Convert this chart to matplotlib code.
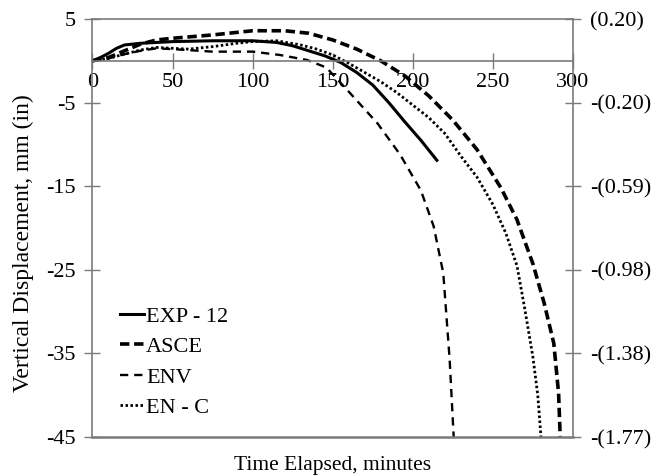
import matplotlib
matplotlib.use("Agg")
import matplotlib.pyplot as plt

# data (time in minutes, displacement in mm)
exp_t = [0, 5, 10, 15, 20, 30, 50, 75, 100, 115, 125, 135, 145, 155, 165, 175, 185, 195, 205, 215]
exp_d = [0, 0.4, 0.9, 1.5, 1.9, 2.1, 2.3, 2.4, 2.4, 2.2, 1.8, 1.2, 0.6, -0.2, -1.4, -2.9, -5.0, -7.3, -9.5, -11.9]

asce_t = [0, 10, 20, 30, 40, 50, 75, 100, 120, 135, 150, 165, 180, 195, 210, 225, 240, 255, 265, 275, 282, 288, 291, 292]
asce_d = [0, 0.4, 1.2, 2.0, 2.5, 2.7, 3.1, 3.6, 3.6, 3.3, 2.5, 1.4, 0, -1.8, -4.2, -7.1, -10.6, -15.2, -19.0, -24.3, -29.0, -33.8, -39.8, -45]

env_t = [0, 10, 20, 30, 40, 50, 75, 100, 117, 134, 146, 161, 178, 192, 205, 213, 219, 223, 225.5]
env_d = [0, 0.3, 0.8, 1.2, 1.5, 1.4, 1.1, 1.1, 0.7, 0.1, -0.8, -3.9, -7.5, -11.2, -15.5, -19.8, -25.4, -35.8, -45]

enc_t = [0, 10, 20, 30, 40, 50, 60, 75, 90, 100, 115, 130, 140, 150, 160, 170, 180, 190, 200, 210, 220, 230, 240, 250, 258, 265, 270, 275, 278, 280]
enc_d = [0, 0.3, 0.8, 1.3, 1.6, 1.5, 1.4, 1.7, 2.1, 2.3, 2.4, 1.9, 1.4, 0.7, -0.3, -1.4, -2.5, -3.8, -5.3, -6.8, -8.7, -11.4, -13.9, -17.2, -20.6, -24.5, -29.8, -35.5, -40, -45]

x_ticks = [0, 50, 100, 150, 200, 250, 300]
y_ticks = [5, -5, -15, -25, -35, -45]
in_labels = ["(0.20)", "-(0.20)", "-(0.59)", "-(0.98)", "-(1.38)", "-(1.77)"]

plt.rcParams['font.family'] = ['Liberation Serif', 'DejaVu Serif']
plt.rcParams['font.size'] = 16
plt.rcParams['axes.unicode_minus'] = False
grey = '#7a7a7a'

fig = plt.figure(figsize=(6.56, 4.76), dpi=100)
ax = fig.add_axes([0.141, 0.082, 0.7325, 0.878])

ax.plot(exp_t, exp_d, color='black', lw=2.2, label='EXP - 12')
ax.plot(asce_t, asce_d, color='black', lw=2.6, dashes=(2.6, 1.3), label='ASCE')
ax.plot(env_t, env_d, color='black', lw=1.7, dashes=(3.5, 2.5), label='ENV')
ax.plot(enc_t, enc_d, color='black', lw=2.0, dashes=(0.9, 0.9), label='EN - C')

ax.set_xlim(0, 300)
ax.set_ylim(-45, 5)

for s in ax.spines.values():
    s.set_color(grey)
    s.set_linewidth(1.2)
ax.spines['bottom'].set_position(('data', 0))
ax.axhline(-45, color=grey, lw=1.8, clip_on=False)

ax.set_xticks(x_ticks)
ax.set_yticks(y_ticks)
ax.tick_params(axis='both', direction='inout', length=12, width=1.0, color=grey)
ax.tick_params(axis='x', pad=3)
ax.tick_params(axis='y', pad=6)

ax2 = ax.twinx()
ax2.set_ylim(-45, 5)
ax2.set_yticks(y_ticks)
ax2.set_yticklabels(in_labels)
ax2.tick_params(axis='y', direction='inout', length=12, width=1.0, color=grey, pad=6)
for s in ax2.spines.values():
    s.set_visible(False)

ax.set_ylabel('Vertical Displacement, mm (in)', fontsize=17)
ax.yaxis.set_label_coords(-0.122, 0.464)
ax.set_xlabel('Time Elapsed, minutes', fontsize=15.5)
ax.xaxis.set_label_coords(0.5, -0.045)

ax.legend(loc='upper left', bbox_to_anchor=(0.035, 0.34), frameon=False,
          handlelength=1.05, handletextpad=0.1, labelspacing=0.45, borderpad=0)

fig.savefig('out.png', dpi=100)
